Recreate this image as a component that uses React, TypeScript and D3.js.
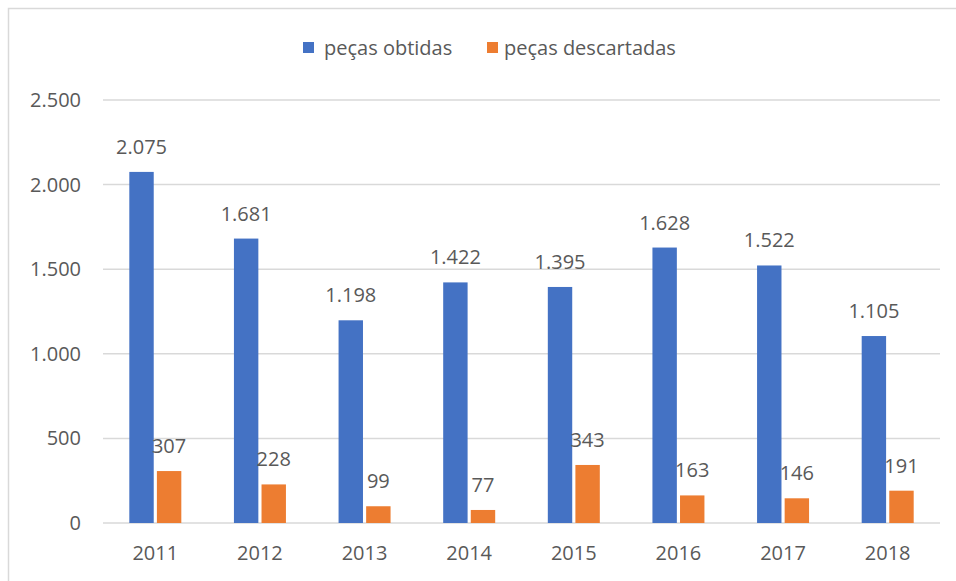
import React from "react";
import * as d3 from "d3";

const years = ["2011", "2012", "2013", "2014", "2015", "2016", "2017", "2018"];
const obtidas = [2075, 1681, 1198, 1422, 1395, 1628, 1522, 1105];
const descartadas = [307, 228, 99, 77, 343, 163, 146, 191];
const seriesNames = ["peças obtidas", "peças descartadas"];
const seriesColors = ["#4472C4", "#ED7D31"];
const yTicks = [0, 500, 1000, 1500, 2000, 2500];

const W = 956;
const H = 581;
const left = 103;
const right = 940;
const top = 100;
const bottom = 523;

const fmt = (v: number) => d3.format(",")(v).replace(/,/g, ".");

export default function App() {
  const x0 = d3.scaleBand<string>().domain(years).range([left, right]).padding(0);
  const groupW = 52;
  const x1 = d3.scaleBand<string>().domain(seriesNames).range([0, groupW]).paddingInner(0.115);
  const y = d3.scaleLinear().domain([0, 2500]).range([bottom, top]);
  const data = [obtidas, descartadas];
  const font = "'Open Sans', 'Noto Sans', sans-serif";
  const textColor = "#595959";
  const fs = 20;

  return (
    <svg width={W} height={H} style={{ position: "absolute", left: 0, top: 0 }} fontFamily={font}>
      <rect x={0} y={0} width={W} height={H} fill="#fff" />
      <rect x={8.5} y={8.5} width={W + 20} height={H + 20} fill="none" stroke="#d9d9d9" strokeWidth={1.5} />
      {yTicks.map((t) => (
        <g key={t}>
          <line x1={left} x2={right} y1={y(t)} y2={y(t)} stroke="#d9d9d9" strokeWidth={1.5} />
          <text x={81} y={y(t)} dy="0.35em" textAnchor="end" fontSize={fs} fill={textColor}>
            {fmt(t)}
          </text>
        </g>
      ))}
      {years.map((yr, i) => {
        const g0 = (x0(yr) as number) + x0.bandwidth() / 2 - groupW / 2;
        return (
          <g key={yr}>
            {data.map((s, si) => {
              const bx = g0 + (x1(seriesNames[si]) as number);
              const bw = x1.bandwidth();
              return (
                <g key={si}>
                  <rect x={bx} y={y(s[i])} width={bw} height={bottom - y(s[i])} fill={seriesColors[si]} />
                  <text x={bx + bw / 2} y={y(s[i]) - 18} textAnchor="middle" fontSize={fs} fill={textColor}>
                    {fmt(s[i])}
                  </text>
                </g>
              );
            })}
            <text x={(x0(yr) as number) + x0.bandwidth() / 2} y={553} dy="0.35em" textAnchor="middle" fontSize={fs} fill={textColor}>
              {yr}
            </text>
          </g>
        );
      })}
      <g>
        <rect x={303} y={42} width={11} height={11} fill={seriesColors[0]} />
        <text x={324} y={47.5} dy="0.35em" fontSize={fs} fill={textColor}>{seriesNames[0]}</text>
        <rect x={487} y={42} width={11} height={11} fill={seriesColors[1]} />
        <text x={504} y={47.5} dy="0.35em" fontSize={fs} fill={textColor}>{seriesNames[1]}</text>
      </g>
    </svg>
  );
}
